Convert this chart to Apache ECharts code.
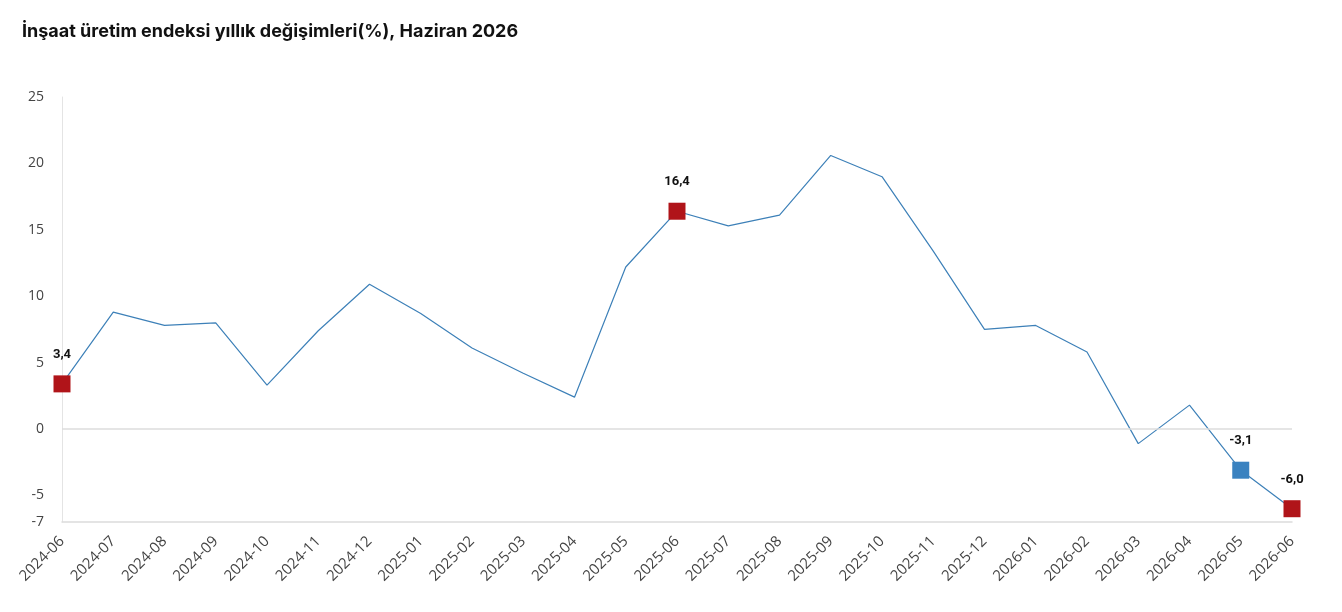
<!DOCTYPE html>
<html>
<head>
<meta charset="utf-8">
<script src="https://cdn.jsdelivr.net/npm/echarts@6/dist/echarts.min.js"></script>
<style>
  html, body { margin: 0; padding: 0; background: #fff; }
  #chart { width: 1342px; height: 612px; }
</style>
</head>
<body>
<div id="chart"></div>
<script>
const months = ['2024-06', '2024-07', '2024-08', '2024-09', '2024-10', '2024-11', '2024-12',
  '2025-01', '2025-02', '2025-03', '2025-04', '2025-05', '2025-06', '2025-07', '2025-08',
  '2025-09', '2025-10', '2025-11', '2025-12', '2026-01', '2026-02', '2026-03', '2026-04',
  '2026-05', '2026-06'];
const changes = [3.4, 8.8, 7.8, 8.0, 3.3, 7.4, 10.9, 8.7, 6.1, 4.2, 2.4, 12.2, 16.4,
  15.3, 16.1, 20.6, 19.0, 13.4, 7.5, 7.8, 5.8, -1.1, 1.8, -3.1, -6.0];
const redPoints = ['2024-06', '2025-06', '2026-06'];
const bluePoints = ['2026-05'];
const yTicks = [-7, -5, 0, 5, 10, 15, 20, 25];

const chart = echarts.init(document.getElementById('chart'));

// only a few points get a marker and a label
let seriesData = changes.map((v, i) => {
  const m = months[i];
  let color = null;
  if (redPoints.indexOf(m) >= 0) color = '#b01419';
  if (bluePoints.indexOf(m) >= 0) color = '#3a82c0';
  if (!color) return v;
  return {
    value: v,
    symbol: 'rect',
    symbolSize: 17,
    itemStyle: { color: color },
    label: {
      show: true,
      position: 'top',
      distance: 14,
      formatter: (p) => p.value.toFixed(1).replace('.', ','),
      fontFamily: 'Roboto',
      fontWeight: 'bold',
      fontSize: 13,
      color: '#111'
    }
  };
});

chart.setOption({
  animation: false,
  title: {
    text: 'İnşaat üretim endeksi yıllık değişimleri(%), Haziran 2026',
    left: 17,
    top: 18,
    textStyle: {
      fontFamily: 'Inter',
      fontWeight: 'bold',
      fontSize: 18,
      color: '#111'
    }
  },
  grid: {
    left: 62,
    right: 50,
    top: 97,
    bottom: 90
  },
  xAxis: {
    type: 'category',
    boundaryGap: false,
    data: months,
    axisLine: { onZero: false, lineStyle: { color: '#dcdcdc', width: 1.5 } },
    axisTick: { show: false },
    axisLabel: {
      rotate: 45,
      interval: 0,
      margin: 17,
      fontFamily: 'Open Sans',
      fontSize: 15,
      color: '#444'
    }
  },
  yAxis: {
    type: 'value',
    min: -7,
    max: 25,
    axisLine: { show: true, lineStyle: { color: '#e4e4e4' } },
    axisTick: { show: false },
    splitLine: { show: false },
    axisLabel: {
      customValues: yTicks,
      margin: 18,
      fontFamily: 'Open Sans',
      fontSize: 14,
      color: '#444'
    }
  },
  series: [{
    type: 'line',
    data: seriesData,
    symbol: 'none',
    lineStyle: { color: '#3d80b8', width: 1.2 },
    itemStyle: { color: '#3d80b8' },
    markLine: {
      silent: true,
      symbol: 'none',
      label: { show: false },
      lineStyle: { color: '#dcdcdc', type: 'solid', width: 1.5 },
      data: [{ yAxis: 0 }]
    },
    z: 3
  }]
});
</script>
</body>
</html>
